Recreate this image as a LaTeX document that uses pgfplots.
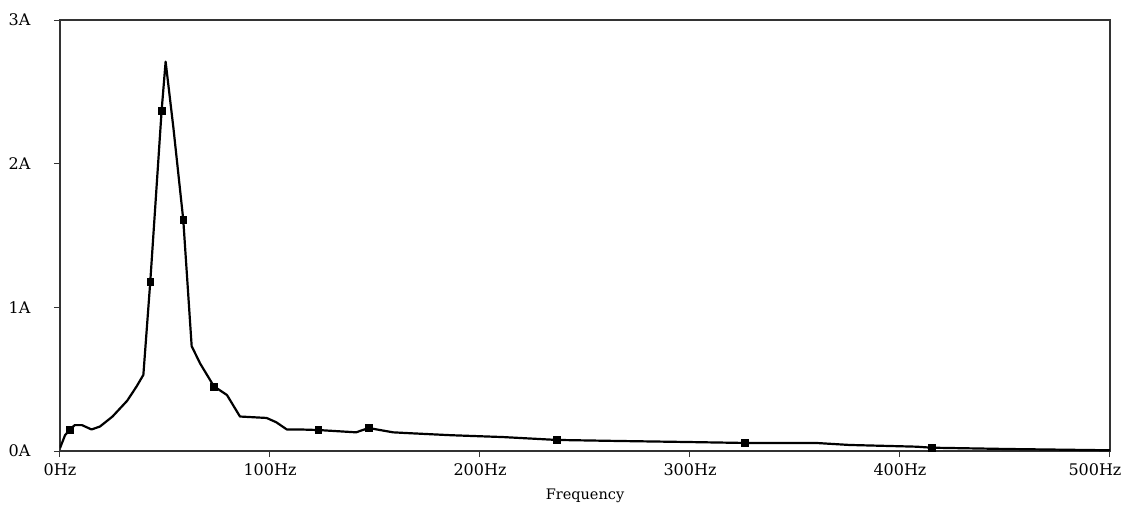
\documentclass[border=0pt]{standalone}
\usepackage{pgfplots}
\pgfplotsset{compat=1.18}
\usepackage{fontspec}
\setmainfont{DejaVu Serif}
\begin{document}
\begin{tikzpicture}
\useasboundingbox (-60pt,-56pt) rectangle (1064pt,451pt);
\begin{axis}[
  scale only axis,
  width=1050pt, height=431pt,
  at={(0,0)}, anchor=south west,
  xmin=0, xmax=500, ymin=0, ymax=3,
  xtick={0,100,200,300,400,500},
  xticklabels={0Hz,100Hz,200Hz,300Hz,400Hz,\hspace*{-30pt}500Hz},
  ytick={0,1,2,3},
  yticklabels={0A,1A,2A,3A},
  tick align=outside,
  major tick length=6pt,
  xtick pos=bottom, ytick pos=left,
  axis line style={line width=1.3pt, black!80},
  tick style={line width=1pt, black!80},
  every tick label/.append style={font=\fontsize{16}{17}\selectfont},
  xticklabel style={yshift=-3pt},
  yticklabel style={xshift=-20pt},
  xlabel={Frequency},
  xlabel style={font=\fontsize{14.5}{15}\selectfont, yshift=-6pt},
  /pgf/number format/assume math mode=true,
]
\addplot[black, line width=2.2pt, line join=round] coordinates {
(0,0.02) (2.4,0.11) (4.8,0.15) (7,0.18) (10.5,0.18) (15,0.15) (19,0.17)
(25,0.24) (32,0.35) (36.5,0.45) (39.7,0.53) (43,1.18) (48.4,2.37) (50.3,2.71)
(54,2.25) (58.7,1.61) (62.7,0.73) (66.7,0.61) (73.3,0.45) (79.5,0.39) (85.7,0.24)
(98.4,0.23) (103,0.2) (108,0.15) (114,0.15) (123,0.146) (141,0.13) (147,0.16)
(158.6,0.13) (165,0.125) (186,0.11) (211,0.097) (236.5,0.077) (265,0.07)
(297,0.063) (326,0.056) (360,0.056) (376,0.042) (408,0.03) (415,0.023)
(451,0.014) (500,0.005)
};
\addplot[only marks, mark=square*, mark size=3.4pt, black] coordinates {
(4.8,0.15) (43,1.18) (48.4,2.37) (58.7,1.61) (73.3,0.45) (123,0.146)
(147,0.16) (236.5,0.077) (326,0.056) (415,0.023)
};
\end{axis}
\end{tikzpicture}
\end{document}
